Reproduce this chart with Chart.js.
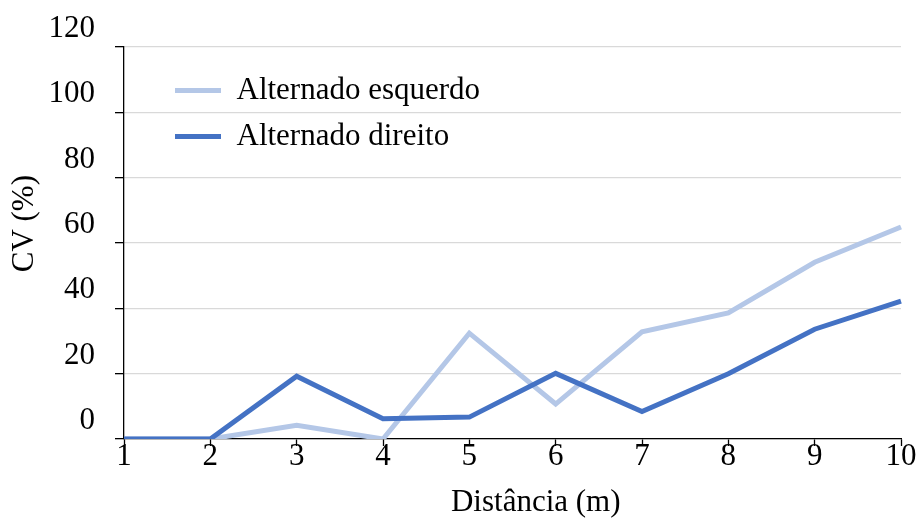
<!DOCTYPE html>
<html>
<head>
<meta charset="utf-8">
<script src="https://cdn.jsdelivr.net/npm/chart.js@4.4.1/dist/chart.umd.min.js"></script>
<style>
  html, body { margin: 0; padding: 0; background: #fff; }
  #wrap { width: 918px; height: 518px; }
</style>
</head>
<body>
<div id="wrap"><canvas id="cvChart" width="918" height="518"></canvas></div>
<script>
// values
const distances = ['1', '2', '3', '4', '5', '6', '7', '8', '9', '10'];
const esquerdo = [0, 0, 4.2, 0, 32.4, 10.7, 32.8, 38.6, 54.1, 64.9];
const direito = [0, 0, 19.2, 6.2, 6.7, 20.1, 8.4, 20.0, 33.6, 42.2];
const yTicks = [0, 20, 40, 60, 80, 100, 120];

const serif = 'Liberation Serif';
const lightBlue = '#b4c7e7';
const darkBlue = '#4472c4';

// put the legend inside the plot, top left
const legendSpot = {
    id: 'legendSpot',
    afterLayout(chart) {
        const lg = chart.legend;
        const area = chart.chartArea;
        lg.left = area.left + 36;
        lg.top = area.top + 13;
        lg.right = area.right;
        lg.bottom = area.bottom;
    }
};

new Chart(document.getElementById('cvChart'), {
    type: 'line',
    data: {
        labels: distances,
        datasets: [
            {
                label: 'Alternado esquerdo',
                data: esquerdo,
                borderColor: lightBlue,
                backgroundColor: lightBlue,
                borderWidth: 5,
                pointRadius: 0,
                tension: 0,
                order: 2
            },
            {
                label: 'Alternado direito',
                data: direito,
                borderColor: darkBlue,
                backgroundColor: darkBlue,
                borderWidth: 5,
                pointRadius: 0,
                tension: 0,
                order: 1
            }
        ]
    },
    options: {
        responsive: false,
        animation: false,
        layout: {
            padding: { left: 0, right: 17, top: 47, bottom: 0 }
        },
        plugins: {
            legend: {
                position: 'chartArea',
                align: 'start',
                labels: {
                    usePointStyle: true,
                    pointStyle: 'line',
                    pointStyleWidth: 46,
                    padding: 15,
                    color: '#000',
                    font: { family: serif, size: 31 },
                    sort: (a, b) => a.datasetIndex - b.datasetIndex
                }
            },
            tooltip: { enabled: false }
        },
        scales: {
            x: {
                offset: false,
                grid: {
                    drawOnChartArea: false,
                    drawTicks: true,
                    tickLength: 7,
                    tickColor: '#000',
                    tickWidth: 1.3
                },
                border: { color: '#000', width: 1.3 },
                ticks: {
                    color: '#000',
                    padding: -8,
                    maxRotation: 0,
                    font: { family: serif, size: 31 }
                },
                title: {
                    display: true,
                    text: '\u00a0\u00a0\u00a0\u00a0\u00a0\u00a0Distância (m)',
                    color: '#000',
                    font: { family: serif, size: 31, lineHeight: 1 },
                    padding: { top: 0, bottom: 0 }
                },
                afterFit(scale) {
                    scale.height = 79;
                }
            },
            y: {
                min: 0,
                max: 120,
                grid: {
                    color: '#d9d9d9',
                    lineWidth: 1.3,
                    tickLength: 9,
                    tickColor: '#000',
                    tickWidth: 1.3
                },
                border: { color: '#000', width: 1.3 },
                ticks: {
                    color: '#000',
                    padding: 20,
                    labelOffset: -18,
                    font: { family: serif, size: 31 }
                },
                afterBuildTicks(scale) {
                    scale.ticks = yTicks.map(v => ({ value: v }));
                },
                title: {
                    display: true,
                    text: '\u00a0\u00a0\u00a0\u00a0\u00a0CV (%)',
                    color: '#000',
                    font: { family: serif, size: 31, lineHeight: 1 },
                    padding: { top: 9, bottom: 0 }
                },
                afterFit(scale) {
                    scale.width = 124;
                }
            }
        }
    },
    plugins: [legendSpot]
});
</script>
</body>
</html>
